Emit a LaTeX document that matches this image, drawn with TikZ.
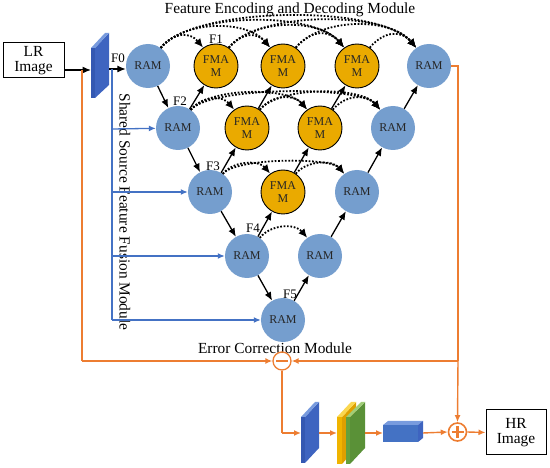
\documentclass[tikz,border=0pt]{standalone}
\usepackage{fontspec}
\setmainfont{Liberation Serif}
\usetikzlibrary{arrows.meta,calc}
\definecolor{ramblue}{RGB}{117,158,206}
\definecolor{fmamgold}{RGB}{234,170,0}
\definecolor{orng}{RGB}{237,125,49}
\definecolor{lineblue}{RGB}{68,114,196}
\definecolor{plfront}{RGB}{52,88,178}
\definecolor{plside}{RGB}{62,100,192}
\definecolor{pltop}{RGB}{120,155,222}
\definecolor{ylfront}{RGB}{240,180,0}
\definecolor{ylside}{RGB}{222,160,0}
\definecolor{yltop}{RGB}{250,215,80}
\definecolor{grfront}{RGB}{100,160,60}
\definecolor{grside}{RGB}{90,145,55}
\definecolor{grtop}{RGB}{160,205,120}
\tikzset{
  txt/.style={font=\fontsize{15.4}{15.6}\selectfont},
  imgbox/.style={draw=black, line width=1pt, minimum width=61pt, minimum height=35pt, inner sep=0pt, align=center, txt},
  ram/.style={circle, fill=ramblue, minimum size=44pt, inner sep=0pt, text=black!85, font=\fontsize{12}{13}\selectfont},
  fmam/.style={circle, fill=fmamgold, draw=black, line width=0.9pt, minimum size=44pt, inner sep=0pt, align=center, text=black!85, font=\fontsize{12}{13.5}\selectfont},
  flab/.style={font=\fontsize{13}{13}\selectfont, inner sep=0pt},
  fwd/.style={-{Latex[length=8.5pt,width=7pt]}, line width=1.3pt, black},
  skip/.style={-{Latex[length=9pt,width=8pt]}, line width=1.8pt, dash pattern=on 1.7pt off 1.7pt, black},
  bluearr/.style={-{Latex[length=7pt,width=6pt]}, line width=1.3pt, lineblue},
  blueln/.style={line width=1.3pt, lineblue},
  orarr/.style={-{Latex[length=7pt,width=6pt]}, line width=1.4pt, orng},
  orln/.style={line width=1.4pt, orng},
  opcirc/.style={circle, draw=orng, line width=1.3pt, minimum size=18pt, inner sep=0pt},
}
\begin{document}
\begin{tikzpicture}[x=1pt,y=1pt]
\useasboundingbox (0,0) rectangle (550,-468);

% labels F
\node[flab] (lF0) at (118,-58) {F0};
\node[flab] (lF1) at (216,-39) {F1};
\node[flab] (lF2) at (180,-101) {F2};
\node[flab] (lF3) at (213,-166) {F3};
\node[flab] (lF4) at (253,-228) {F4};
\node[flab] (lF5) at (290,-294) {F5};

% nodes
\node[ram]  (r00) at (148,-66) {RAM};
\node[fmam] (f01) at (216,-66) {FMA\\M};
\node[fmam] (f02) at (283,-66) {FMA\\M};
\node[fmam] (f03) at (357,-66) {FMA\\M};
\node[ram]  (r04) at (429,-66) {RAM};
\node[ram]  (r10) at (178,-128) {RAM};
\node[fmam] (f11) at (247,-128) {FMA\\M};
\node[fmam] (f12) at (320,-128) {FMA\\M};
\node[ram]  (r13) at (393,-128) {RAM};
\node[ram]  (r20) at (210,-192) {RAM};
\node[fmam] (f21) at (283,-192) {FMA\\M};
\node[ram]  (r22) at (357,-192) {RAM};
\node[ram]  (r30) at (247,-256) {RAM};
\node[ram]  (r31) at (320,-256) {RAM};
\node[ram]  (r40) at (283,-320) {RAM};

% titles
\node[txt, anchor=base] (title) at (290,-14) {Feature Encoding and Decoding Module};
\node[txt, anchor=base] (ecm) at (275,-354) {Error Correction Module};
\node[txt, rotate=-90, inner sep=0pt] (sfm) at (125,-212) {Shared Source Feature Fusion Module};

% image boxes
\node[imgbox] (lr) at (33.5,-60.5) {LR\\Image};
\node[imgbox, minimum width=60pt, minimum height=45pt] (hr) at (516,-432.5) {HR\\Image};

% input plate
\fill[plside] (95,-48) -- (109,-33) -- (109,-85) -- (95,-98) -- cycle;
\fill[plfront] (91,-48) rectangle (95,-98);
\fill[pltop] (91,-48) -- (95,-48) -- (109,-33) -- (105,-33) -- cycle;
\coordinate (p1in) at (91,-70);
\coordinate (p1out) at (109,-69);

% bottom plates
\fill[plside] (305,-417) -- (319,-402) -- (319,-448) -- (305,-463) -- cycle;
\fill[plfront] (301,-417) rectangle (305,-463);
\fill[pltop] (301,-417) -- (305,-417) -- (319,-402) -- (315,-402) -- cycle;
\coordinate (p2in) at (301,-433);
\coordinate (p2out) at (319,-433);

\fill[ylside] (342,-417) -- (356,-402) -- (356,-448) -- (342,-464) -- cycle;
\fill[ylfront] (337,-417) rectangle (342,-464);
\fill[yltop] (337,-417) -- (342,-417) -- (356,-402) -- (351,-402) -- cycle;
\fill[grside] (350,-417) -- (365,-402) -- (365,-448) -- (350,-464) -- cycle;
\fill[grfront] (346,-417) rectangle (350,-464);
\fill[grtop] (346,-417) -- (350,-417) -- (365,-402) -- (361,-402) -- cycle;
\coordinate (p3in) at (337,-433);
\coordinate (p3out) at (365,-433);

% cuboid
\fill[pltop] (383,-425) -- (388,-421) -- (423,-421) -- (418,-425) -- cycle;
\fill[plside] (418,-425) -- (423,-421) -- (423,-438) -- (418,-442) -- cycle;
\fill[lineblue] (383,-425) rectangle (418,-442);
\coordinate (cbin) at (383,-433);
\coordinate (cbout) at (423,-433);

% operators
\node[opcirc] (minus) at (282,-361) {};
\draw[orng, line width=1.3pt] ($(minus.center)+(-6,0)$) -- ($(minus.center)+(6,0)$);
\node[opcirc, line width=1.6pt] (plus) at (457.5,-432) {};
\draw[orng, line width=2.4pt] ($(plus.center)+(-6,0)$) -- ($(plus.center)+(6,0)$)
      ($(plus.center)+(0,-6)$) -- ($(plus.center)+(0,6)$);

% input arrows
\draw[fwd] (lr.east |- p1in) -- (p1in);
\draw[fwd] (p1out) -- (r00.west |- p1out);

% blue shared source lines
\coordinate (bt) at (112,-69);
\coordinate (b1) at (112,-129);
\coordinate (b2) at (112,-192);
\coordinate (b3) at (112,-256);
\coordinate (b4) at (112,-320);
\draw[blueln] (bt) -- (b4);
\draw[bluearr] (b1) -- (r10);
\draw[bluearr] (b2) -- (r20);
\draw[bluearr] (b3) -- (r30);
\draw[bluearr] (b4) -- (r40);

% forward solid arrows
\draw[fwd] (r00) -- (r10);
\draw[fwd] (r10) -- (r20);
\draw[fwd] (r20) -- (r30);
\draw[fwd] (r30) -- (r40);
\draw[fwd] (r10) -- (f01);
\draw[fwd] (r20) -- (f11);
\draw[fwd] (f11) -- (f02);
\draw[fwd] (r30) -- (f21);
\draw[fwd] (f21) -- (f12);
\draw[fwd] (f12) -- (f03);
\draw[fwd] (r40) -- (r31);
\draw[fwd] (r31) -- (r22);
\draw[fwd] (r22) -- (r13);
\draw[fwd] (r13) -- (r04);

% dense skip arcs
\foreach \s/\t/\l in {r00/f01/1.25, r00/f02/0.85, r00/f03/0.66, r00/r04/0.56,
                      f01/f02/1.25, f01/f03/0.85, f01/r04/0.66,
                      f02/f03/1.25, f02/r04/0.85, f03/r04/1.25,
                      r10/f11/1.1, r10/f12/0.65, r10/r13/0.42,
                      f11/f12/1.1, f11/r13/0.65, f12/r13/1.1,
                      r20/f21/0.95, r20/r22/0.45, f21/r22/0.95,
                      r30/r31/1.0}
  \draw[skip] (\s.55) to[out=50,in=130,looseness=\l] (\t.125);

% orange error correction path
\coordinate (o1) at (82,-70);
\coordinate (o2) at (82,-361);
\coordinate (oR) at (458,-66);
\coordinate (oJ) at (458,-361);
\coordinate (oD) at (282,-433);
\draw[orln] (o1) -- (o2);
\draw[orarr] (o2) -- (minus.west);
\draw[orln] (r04.east) -- (oR) -- (oJ);
\draw[orarr] (oJ) -- (plus.north);
\draw[orarr] (oJ) -- (minus.east);
\draw[orln] (minus.south) -- (oD);
\draw[orarr] (oD) -- (p2in);
\draw[orarr] (p2out) -- (p3in);
\draw[orarr] (p3out) -- (cbin);
\draw[orarr] (cbout) -- (plus.west);
\draw[orarr] (plus.east) -- (hr.west);
\end{tikzpicture}
\end{document}
